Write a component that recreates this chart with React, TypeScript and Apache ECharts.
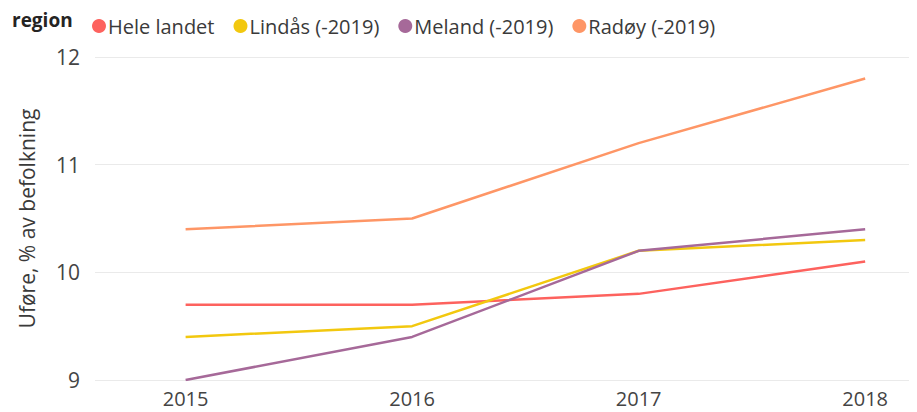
import React, { useEffect, useRef } from "react";
import * as echarts from "echarts";

const years = [2015, 2016, 2017, 2018];
const seriesNames = ["Hele landet", "Lindås (-2019)", "Meland (-2019)", "Radøy (-2019)"];
const heleLandet = [9.7, 9.7, 9.8, 10.1];
const lindas = [9.4, 9.5, 10.2, 10.3];
const meland = [9.0, 9.4, 10.2, 10.4];
const radoy = [10.4, 10.5, 11.2, 11.8];
const colors = ["#FD625E", "#F2C80F", "#A66999", "#FE9666"];

const FONT = "'Open Sans', 'Noto Sans', sans-serif";

export default function App() {
  const ref = useRef<HTMLDivElement>(null);
  useEffect(() => {
    if (!ref.current) return;
    const chart = echarts.init(ref.current, undefined, { renderer: "svg" });
    const values = [heleLandet, lindas, meland, radoy];
    chart.setOption({
      animation: false,
      textStyle: { fontFamily: FONT },
      graphic: [
        {
          type: "text",
          left: 4,
          top: 2,
          style: { text: "region", font: `bold 19px ${FONT}`, fill: "#252423" },
        },
      ],
      legend: {
        left: 79,
        top: 3,
        icon: "circle",
        itemWidth: 14,
        itemHeight: 14,
        itemGap: 19,
        textStyle: { fontSize: 20, color: "#3a3a3a", fontFamily: FONT, padding: [0, 0, 0, -3] },
        data: seriesNames,
      },
      grid: { left: 80, right: 2, top: 49, bottom: 32 },
      xAxis: {
        type: "value",
        min: 2014.6,
        max: 2018.22,
        splitLine: { show: false },
        axisLine: { show: false },
        axisTick: { show: false },
        axisLabel: {
          customValues: years,
          fontSize: 20,
          color: "#444444",
          margin: 8,
          formatter: (v: number) => String(v),
        },
      },
      yAxis: {
        type: "value",
        min: 9,
        max: 12,
        interval: 1,
        name: "Uføre, % av befolkning",
        nameLocation: "middle",
        nameGap: 58,
        nameTextStyle: { fontSize: 21, color: "#3a3a3a", fontFamily: FONT },
        axisLine: { show: false },
        axisTick: { show: false },
        axisLabel: { fontSize: 21, color: "#444444", margin: 15 },
        splitLine: { lineStyle: { color: "#EAEAEA", width: 1 } },
      },
      series: seriesNames.map((name, i) => ({
        name,
        type: "line",
        showSymbol: false,
        symbol: "none",
        color: colors[i],
        lineStyle: { width: 2.5, color: colors[i] },
        data: years.map((y, j) => [y, values[i][j]]),
      })),
    });
    return () => chart.dispose();
  }, []);
  return <div ref={ref} style={{ width: 909, height: 404 }} />;
}
